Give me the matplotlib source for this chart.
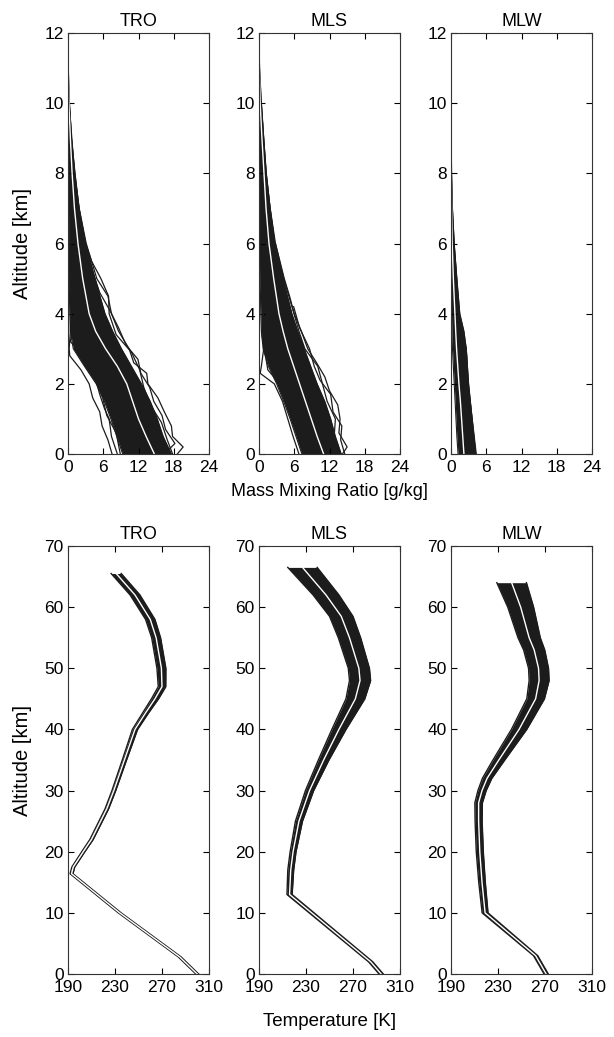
import matplotlib
matplotlib.use("Agg")
import matplotlib.pyplot as plt

plt.rcParams["font.family"] = ["Liberation Sans", "DejaVu Sans"]
plt.rcParams["font.size"] = 12

# ---------- Data ------------------------------------------------------------

PANELS = ["TRO", "MLS", "MLW"]

# water vapour: altitude grid [km] and mixing ratio [g/kg]
Z_Q = [0, 0.5, 1, 1.5, 2, 2.5, 3, 3.5, 4, 5, 6, 7, 8, 9, 10, 11, 12]

TRO_Q_MEAN = [14.7, 13.3, 12.0, 11.0, 10.0, 8.4, 6.4, 4.7, 3.6, 2.5, 1.7, 1.1, 0.7, 0.4, 0.15, 0.05, 0.0]
TRO_Q_LO = [9.3, 8.3, 7.3, 6.2, 4.8, 2.8, 0.9, 0.4, 0.3, 0.2, 0.15, 0.1, 0.05, 0, 0, 0, 0]
TRO_Q_HI = [17.6, 16.2, 15.2, 14.0, 12.5, 10.8, 9.1, 7.6, 6.3, 4.6, 3.0, 1.9, 1.2, 0.6, 0.25, 0.05, 0]
TRO_Q_EDGES = [
    ([0, 0.4, 0.8, 1.2, 1.6, 2.0, 2.4, 2.8, 3.0, 3.5, 4, 5, 6, 8, 10],
     [7.5, 6.8, 5.8, 5.4, 4.2, 3.6, 2.2, 0.3, 0.2, 0.4, 0.5, 0.3, 0.2, 0.1, 0]),
    ([0, 0.2, 0.5, 0.8, 1.2, 1.6, 2.0, 2.3, 2.6, 3.0, 3.5, 4.0, 4.5, 5, 6, 7, 8, 10],
     [18.6, 19.6, 17.8, 17.6, 16.4, 15.3, 13.6, 13.4, 11.2, 10.4, 8.6, 7.4, 6.8, 4.9, 3.1, 1.9, 1.1, 0.2]),
    ([0, 0.5, 1, 1.3, 1.7, 2.2, 2.7, 3.2, 3.6, 4.2, 5, 6, 8],
     [8.4, 7.4, 7.0, 6.2, 5.4, 4.6, 3.5, 0.4, 0.8, 1.2, 0.8, 0.5, 0.15]),
    ([0, 0.4, 0.9, 1.4, 1.9, 2.4, 2.9, 3.4, 4, 4.5, 5.0, 5.5, 6, 7],
     [17.8, 16.9, 15.9, 14.0, 12.9, 12.2, 10.8, 8.2, 7.0, 6.9, 5.6, 4.0, 3.0, 1.6]),
    ([0, 0.3, 0.7, 1.1, 1.5, 1.9, 2.3, 2.7, 3.1, 3.6, 4.1, 4.6, 5.2, 6],
     [16.4, 18.2, 16.6, 16.0, 14.6, 13.9, 12.4, 11.9, 9.9, 8.6, 7.1, 5.4, 4.2, 2.9]),
    ([0, 0.6, 1.1, 1.6, 2.1, 2.6, 3.0, 3.4, 3.9],
     [8.9, 8.2, 6.6, 5.9, 4.9, 3.9, 1.6, 2.3, 1.4]),
]

MLS_Q_MEAN = [11.0, 9.9, 8.9, 7.9, 6.9, 5.9, 4.9, 4.1, 3.4, 2.5, 1.7, 1.2, 0.85, 0.5, 0.2, 0.05, 0]
MLS_Q_LO = [7.3, 6.3, 5.3, 4.2, 3.0, 1.6, 0.7, 0.4, 0.3, 0.2, 0.15, 0.1, 0.05, 0.02, 0, 0, 0]
MLS_Q_HI = [14.0, 13.0, 12.2, 11.2, 9.9, 8.8, 7.7, 6.6, 5.6, 4.1, 2.7, 1.9, 1.25, 0.8, 0.4, 0.1, 0]
MLS_Q_EDGES = [
    ([0, 0.5, 1, 1.5, 2, 2.3, 2.5, 3, 3.5, 4, 5, 6, 8],
     [6.8, 5.8, 4.9, 4.0, 2.6, 0.2, 0.4, 0.8, 0.9, 0.7, 0.4, 0.2, 0.1]),
    ([0, 0.2, 0.6, 1.0, 1.4, 1.8, 2.2, 2.6, 3.0, 3.5, 4.0, 4.5, 5, 6, 7, 8, 10],
     [14.2, 15.0, 13.6, 13.8, 13.4, 12.0, 11.2, 9.8, 8.3, 7.2, 6.0, 5.2, 4.3, 2.8, 1.9, 1.2, 0.4]),
    ([0, 0.6, 1.2, 1.8, 2.1, 2.4, 2.9, 3.4, 4, 5, 7],
     [7.6, 6.6, 5.5, 3.8, 3.0, 1.5, 1.0, 0.5, 0.6, 0.4, 0.1]),
    ([0, 0.5, 1.0, 1.5, 2.0, 2.5, 3.0, 3.5, 4.2, 5, 6],
     [13.4, 12.8, 13.0, 11.6, 10.8, 10.0, 7.8, 6.8, 5.6, 4.2, 2.8]),
    ([0, 0.4, 0.8, 1.2, 1.7, 2.1, 2.5, 3.0, 3.6, 4.2],
     [14.6, 13.9, 14.1, 12.6, 12.2, 10.4, 9.4, 8.6, 6.9, 5.9]),
]

MLW_Q_MEAN = [2.2, 2.0, 1.8, 1.6, 1.35, 1.15, 0.95, 0.8, 0.67, 0.4, 0.2, 0.1, 0.05, 0.02, 0, 0, 0]
MLW_Q_LO = [1.2, 1.0, 0.85, 0.7, 0.55, 0.4, 0.25, 0.15, 0.08, 0.04, 0.02, 0, 0, 0, 0, 0, 0]
MLW_Q_HI = [4.2, 3.9, 3.6, 3.3, 3.0, 2.8, 2.6, 2.2, 1.5, 1.0, 0.55, 0.25, 0.1, 0.04, 0, 0, 0]
MLW_Q_EDGES = [
    ([0, 1, 2, 3, 3.5, 4, 5, 6, 7, 8],
     [4.3, 3.6, 2.9, 2.6, 1.8, 1.35, 0.95, 0.5, 0.2, 0.05]),
]

# temperature: altitude [km], mean and spread envelope [K]
TRO_T_Z = [0, 2.8, 10, 16.4, 17.5, 20, 22, 27, 30, 35, 40, 42.7, 45, 47, 50, 55, 58, 62, 65.5]
TRO_T_MEAN = [300, 285, 234, 193, 194.5, 203, 210, 223, 229, 238, 247, 256, 264, 270, 269.5, 265, 260,
              247, 231]
TRO_T_LO = [298.8, 283.8, 232.8, 191.8, 193.3, 201.7, 208.6, 221.5, 227.4, 236.2, 244.8, 253.5, 261,
            266.8, 265.7, 261.2, 256, 242.8, 226.7]
TRO_T_HI = [301.2, 286.2, 235.2, 194.2, 195.7, 204.3, 211.4, 224.5, 230.6, 239.8, 249.2, 258.5, 267,
            273.2, 273.3, 268.8, 264, 251.2, 235.3]

MLS_T_Z = [0, 2, 13, 17, 20, 25, 30, 35, 40, 45, 48, 50, 55, 58.5, 62, 66.5]
MLS_T_MEAN = [294, 285, 216, 217, 219, 224, 233, 245, 258, 272, 276, 275, 267, 260, 247, 227]
MLS_T_LO = [292.2, 283.2, 213.8, 214.5, 216.5, 221, 229.5, 240.5, 252, 264, 267, 266, 257.5, 250, 236, 214.5]
MLS_T_HI = [295.8, 286.8, 218.2, 219.5, 221.5, 227, 236.5, 249.5, 264, 280, 285, 284, 276.5, 270, 258, 239.5]

MLW_T_Z = [0, 3, 10, 15, 20, 25, 28, 30, 32, 35, 40, 45, 48, 50, 53, 55, 60, 64]
MLW_T_MEAN = [271, 262, 219, 216.4, 214.5, 213.5, 213.5, 216.4, 220.7, 230.7, 247.9, 262, 265, 264.5,
              260.8, 256.5, 249.3, 241.6]
MLW_T_LO = [269.2, 260.2, 216.5, 213.6, 211.5, 210.5, 210.3, 212.9, 216.7, 225.7, 241.4, 254.5, 256.5,
            256, 251.8, 247, 238.3, 229]
MLW_T_HI = [272.8, 263.8, 221.5, 219.2, 217.5, 216.5, 216.7, 219.9, 224.7, 235.7, 254.4, 269.5, 273.5,
            273, 269.8, 266, 260.3, 254.2]

Q_XTICKS = [0, 6, 12, 18, 24]
Q_YTICKS = [0, 2, 4, 6, 8, 10, 12]
T_XTICKS = [190, 230, 270, 310]
T_YTICKS = [0, 10, 20, 30, 40, 50, 60, 70]

# ---------- Layout -----------------------------------------------------------

FIG_W, FIG_H, DPI = 614, 1037, 100
LEFTS = [68, 259, 451]
AX_W = 141
TOP_ROW = (33, 454)      # top, bottom in pixels
BOT_ROW = (546, 974)
INK = "#1c1c1c"


def box(left, top, bottom):
    return [left / FIG_W, 1 - bottom / FIG_H, AX_W / FIG_W, (bottom - top) / FIG_H]


def style(ax, title, xticks, yticks):
    ax.set_xlim(xticks[0], xticks[-1])
    ax.set_ylim(yticks[0], yticks[-1])
    ax.set_xticks(xticks)
    ax.set_yticks(yticks)
    ax.tick_params(direction="in", top=True, right=True, length=4, width=0.8,
                   labelsize=12.5, pad=3)
    ax.tick_params(axis="x", pad=4)
    for sp in ax.spines.values():
        sp.set_linewidth(0.8)
        sp.set_color("#333333")
    ax.set_title(title, fontsize=13, pad=5)


fig = plt.figure(figsize=(FIG_W / DPI, FIG_H / DPI), dpi=DPI)

q_sets = [(TRO_Q_MEAN, TRO_Q_LO, TRO_Q_HI, TRO_Q_EDGES),
          (MLS_Q_MEAN, MLS_Q_LO, MLS_Q_HI, MLS_Q_EDGES),
          (MLW_Q_MEAN, MLW_Q_LO, MLW_Q_HI, MLW_Q_EDGES)]
t_sets = [(TRO_T_Z, TRO_T_MEAN, TRO_T_LO, TRO_T_HI),
          (MLS_T_Z, MLS_T_MEAN, MLS_T_LO, MLS_T_HI),
          (MLW_T_Z, MLW_T_MEAN, MLW_T_LO, MLW_T_HI)]

for i, name in enumerate(PANELS):
    # --- water vapour ---
    ax = fig.add_axes(box(LEFTS[i], *TOP_ROW))
    mean, lo, hi, edges = q_sets[i]
    ax.fill_betweenx(Z_Q, lo, hi, color=INK, lw=0)
    ax.plot(lo, Z_Q, color=INK, lw=0.8)
    ax.plot(hi, Z_Q, color=INK, lw=0.8)
    for ez, ex in edges:
        ax.plot(ex, ez, color=INK, lw=0.9)
    ax.plot(mean, Z_Q, color="white", lw=1.0)
    style(ax, name, Q_XTICKS, Q_YTICKS)

    # --- temperature ---
    ax = fig.add_axes(box(LEFTS[i], *BOT_ROW))
    z, mean, lo, hi = t_sets[i]
    ax.fill_betweenx(z, lo, hi, color=INK, lw=0)
    ax.plot(lo, z, color=INK, lw=1.0)
    ax.plot(hi, z, color=INK, lw=1.0)
    ax.plot(mean, z, color="white", lw=1.0)
    style(ax, name, T_XTICKS, T_YTICKS)

mid_x = (LEFTS[1] + AX_W / 2) / FIG_W
fig.text(mid_x, 1 - 491 / FIG_H, "Mass Mixing Ratio [g/kg]", ha="center", va="center", fontsize=13)
fig.text(mid_x, 1 - 1021 / FIG_H, "Temperature [K]", ha="center", va="center", fontsize=13.5)
fig.text(23 / FIG_W, 1 - sum(TOP_ROW) / 2 / FIG_H, "Altitude [km]", rotation=90,
         ha="center", va="center", fontsize=14.5)
fig.text(23 / FIG_W, 1 - sum(BOT_ROW) / 2 / FIG_H, "Altitude [km]", rotation=90,
         ha="center", va="center", fontsize=14.5)

fig.savefig("out.png", dpi=DPI)
